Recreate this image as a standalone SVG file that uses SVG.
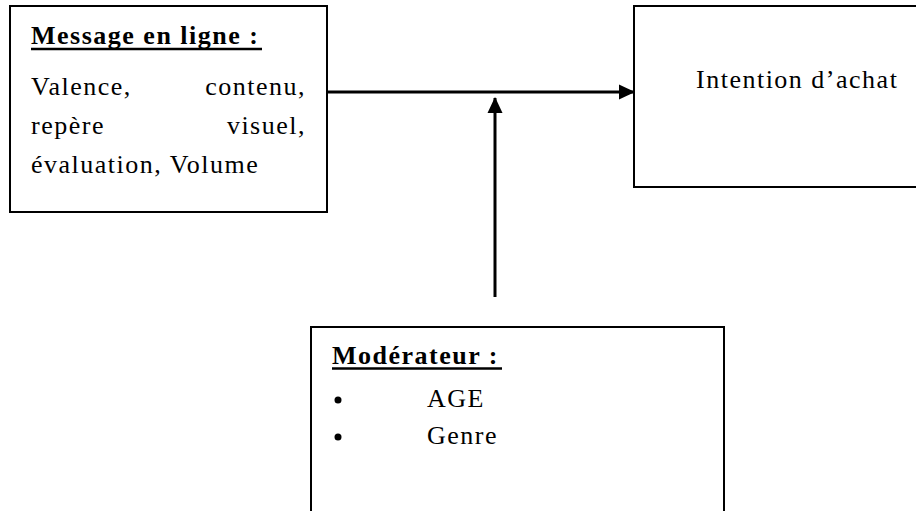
<svg xmlns="http://www.w3.org/2000/svg" width="916" height="511" viewBox="0 0 916 511">
<style>
.box{fill:#fff;stroke:#000;stroke-width:2}
.t{font-family:"Liberation Serif","Times New Roman",serif;font-size:26px;letter-spacing:1.5px;fill:#000}
.b{font-weight:bold}
.ul{stroke:#000;stroke-width:2.5}
.conn{stroke:#000;stroke-width:3;fill:none}
</style>
<defs>
<marker id="ah" markerWidth="16" markerHeight="16" refX="15" refY="8" orient="auto" markerUnits="userSpaceOnUse">
<path d="M0,0.5 L16,8 L0,15.5 Z" fill="#000"/>
</marker>
</defs>
<rect width="916" height="511" fill="#fff"/>
<g id="message">
<rect class="box" x="10" y="6" width="317" height="206"/>
<text class="t b" x="31" y="44">Message en ligne :</text>
<line class="ul" x1="31" y1="49" x2="262" y2="49"/>
<text class="t" x="31" y="95">Valence,</text>
<text class="t" x="306" y="95" text-anchor="end">contenu,</text>
<text class="t" x="31" y="134">repère</text>
<text class="t" x="306" y="134" text-anchor="end">visuel,</text>
<text class="t" x="31" y="173">évaluation, Volume</text>
</g>
<g id="intention">
<rect class="box" x="634" y="6" width="290" height="181"/>
<text class="t" x="696" y="88">Intention d’achat</text>
</g>
<g id="moderateur">
<rect class="box" x="311" y="327" width="413" height="200"/>
<text class="t b" x="332" y="364">Modérateur :</text>
<line class="ul" x1="332" y1="368.5" x2="502" y2="368.5"/>
<circle cx="338" cy="400" r="3.5" fill="#000"/>
<text class="t" x="427" y="407">AGE</text>
<circle cx="338" cy="437" r="3.5" fill="#000"/>
<text class="t" x="427" y="444">Genre</text>
</g>
<g id="connectors">
<line class="conn" x1="327" y1="92" x2="634" y2="92" marker-end="url(#ah)"/>
<line class="conn" x1="495" y1="297" x2="495" y2="98" marker-end="url(#ah)"/>
</g>
</svg>
